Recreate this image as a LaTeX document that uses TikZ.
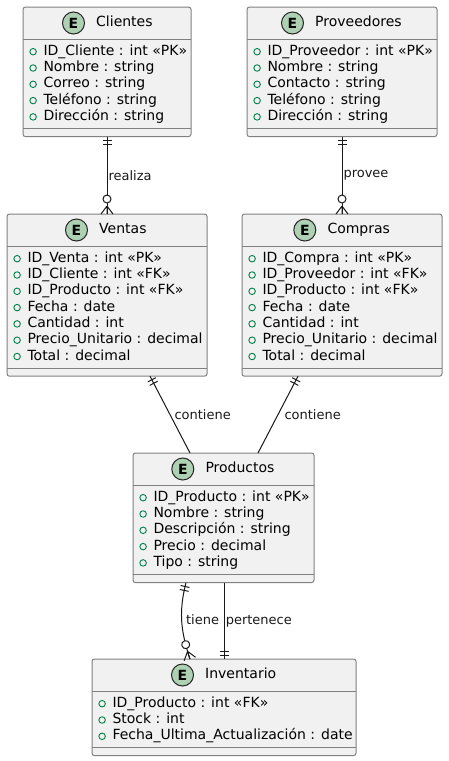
\documentclass[tikz,border=0pt]{standalone}
\usepackage{fontspec}
\setmainfont{DejaVu Sans}
\usetikzlibrary{positioning, decorations.markings}
\definecolor{entfill}{HTML}{F1F1F1}
\definecolor{spotfill}{HTML}{ADD1B2}
\definecolor{pubgreen}{HTML}{038048}

\begin{document}
\begin{tikzpicture}[x=1pt, y=-1pt,
            ent/.style={rectangle, draw=black!50, line width=1pt, rounded corners=2.5pt,
                        fill=entfill, inner sep=0pt, outer sep=0pt},
            sep/.style={draw=black!50, line width=1pt},
            spot/.style={circle, draw=black!85, line width=1pt, fill=spotfill,
                         minimum size=22pt, inner sep=0pt, font=\fontsize{14}{16}\selectfont\bfseries},
            ttl/.style={anchor=west, inner sep=0pt, text height=10.5pt, text depth=3.3pt,
                        font=\fontsize{14}{16}\selectfont},
            attr/.style={anchor=west, inner sep=0pt, text height=10.5pt, text depth=3.3pt,
                         font=\fontsize{14}{16}\selectfont},
            pub/.style={circle, draw=pubgreen, line width=0.9pt, minimum size=6.5pt, inner sep=0pt},
            rel/.style={line width=1pt, black!90},
            lbl/.style={right, inner sep=1pt, font=\fontsize{13}{15}\selectfont},
            uno ini/.style={postaction={decorate, decoration={markings,
                mark=at position 4pt with {\draw[rel] (0,-4.5) -- (0,4.5);},
                mark=at position 8pt with {\draw[rel] (0,-4.5) -- (0,4.5);}}}},
            uno fin/.style={postaction={decorate, decoration={markings,
                mark=at position -8pt with {\draw[rel] (0,-4.5) -- (0,4.5);},
                mark=at position -4pt with {\draw[rel] (0,-4.5) -- (0,4.5);}}}},
            muchos fin/.style={postaction={decorate, decoration={markings,
                mark=at position -15pt with {\draw[rel, fill=white] (0,0) circle[radius=4];},
                mark=at position -8pt with {\draw[rel] (0,0) -- (8,-6) (0,0) -- (8,0) (0,0) -- (8,6);}}}}]
          \useasboundingbox (0,0) rectangle (448,761);

          % Clientes
          \node[ent, minimum width=168pt, minimum height=129.6pt] (cli) at (107,71.8) {};
          \node[ttl] (cli-t) at (96,23) {Clientes};
          \node[spot, left=11pt of cli-t] (cli-e) {E};
          \draw[sep] ([yshift=-32pt]cli.north west) -- ([yshift=-32pt]cli.north east)
                     ([yshift=8pt]cli.south west) -- ([yshift=8pt]cli.south east);
          \foreach \a [count=\i] in {ID\_Cliente : int «PK», Nombre : string, Correo : string,
                                     Teléfono : string, Dirección : string} {
            \node[attr] (cli-\i) at (43.3, {7+28.4+16.3*\i}) {\a};
            \node[pub, left=6.5pt of cli-\i] {};
          }

          % Proveedores
          \node[ent, minimum width=190pt, minimum height=129.6pt] (prov) at (342,71.8) {};
          \node[ttl] (prov-t) at (315,23) {Proveedores};
          \node[spot, left=11pt of prov-t] (prov-e) {E};
          \draw[sep] ([yshift=-32pt]prov.north west) -- ([yshift=-32pt]prov.north east)
                     ([yshift=8pt]prov.south west) -- ([yshift=8pt]prov.south east);
          \foreach \a [count=\i] in {ID\_Proveedor : int «PK», Nombre : string, Contacto : string,
                                     Teléfono : string, Dirección : string} {
            \node[attr] (prov-\i) at (267.3, {7+28.4+16.3*\i}) {\a};
            \node[pub, left=6.5pt of prov-\i] {};
          }

          % Ventas
          \node[ent, minimum width=200pt, minimum height=162.2pt] (ven) at (107,295.1) {};
          \node[ttl] (ven-t) at (99,230) {Ventas};
          \node[spot, left=11pt of ven-t] (ven-e) {E};
          \draw[sep] ([yshift=-32pt]ven.north west) -- ([yshift=-32pt]ven.north east)
                     ([yshift=8pt]ven.south west) -- ([yshift=8pt]ven.south east);
          \foreach \a [count=\i] in {ID\_Venta : int «PK», ID\_Cliente : int «FK», ID\_Producto : int «FK»,
                                     Fecha : date, Cantidad : int, Precio\_Unitario : decimal, Total : decimal} {
            \node[attr] (ven-\i) at (27.3, {214+28.4+16.3*\i}) {\a};
            \node[pub, left=6.5pt of ven-\i] {};
          }

          % Compras
          \node[ent, minimum width=200pt, minimum height=162.2pt] (com) at (342,295.1) {};
          \node[ttl] (com-t) at (327.3,230) {Compras};
          \node[spot, left=11pt of com-t] (com-e) {E};
          \draw[sep] ([yshift=-32pt]com.north west) -- ([yshift=-32pt]com.north east)
                     ([yshift=8pt]com.south west) -- ([yshift=8pt]com.south east);
          \foreach \a [count=\i] in {ID\_Compra : int «PK», ID\_Proveedor : int «FK», ID\_Producto : int «FK»,
                                     Fecha : date, Cantidad : int, Precio\_Unitario : decimal, Total : decimal} {
            \node[attr] (com-\i) at (262.3, {214+28.4+16.3*\i}) {\a};
            \node[pub, left=6.5pt of com-\i] {};
          }

          % Productos
          \node[ent, minimum width=181pt, minimum height=129.6pt] (prod) at (223.5,517.8) {};
          \node[ttl] (prod-t) at (205.3,469) {Productos};
          \node[spot, left=11pt of prod-t] (prod-e) {E};
          \draw[sep] ([yshift=-32pt]prod.north west) -- ([yshift=-32pt]prod.north east)
                     ([yshift=8pt]prod.south west) -- ([yshift=8pt]prod.south east);
          \foreach \a [count=\i] in {ID\_Producto : int «PK», Nombre : string, Descripción : string,
                                     Precio : decimal, Tipo : string} {
            \node[attr] (prod-\i) at (153.3, {453+28.4+16.3*\i}) {\a};
            \node[pub, left=6.5pt of prod-\i] {};
          }

          % Inventario
          \node[ent, minimum width=264pt, minimum height=96.6pt] (inv) at (224,707.3) {};
          \node[ttl] (inv-t) at (205,675) {Inventario};
          \node[spot, left=11pt of inv-t] (inv-e) {E};
          \draw[sep] ([yshift=-32pt]inv.north west) -- ([yshift=-32pt]inv.north east)
                     ([yshift=8pt]inv.south west) -- ([yshift=8pt]inv.south east);
          \foreach \a [count=\i] in {ID\_Producto : int «FK», Stock : int,
                                     Fecha\_Ultima\_Actualización : date} {
            \node[attr] (inv-\i) at (112.3, {659+28.4+16.3*\i}) {\a};
            \node[pub, left=6.5pt of inv-\i] {};
          }

          % relaciones
          \draw[rel, uno ini, muchos fin] (cli) -- node[lbl] {realiza} (ven);
          \draw[rel, uno ini, muchos fin] (prov) -- node[lbl] {provee} (com);
          \draw[rel, uno ini] ([xshift=43pt]ven.south) -- node[lbl, xshift=3pt] {contiene} ([xshift=-33.5pt]prod.north);
          \draw[rel, uno ini] ([xshift=-44pt]com.south) -- node[lbl, xshift=5pt] {contiene} ([xshift=34.5pt]prod.north);
          \draw[rel, uno ini, muchos fin] ([xshift=-37.5pt]prod.south)
                .. controls +(-7,28) and +(-10,-30) .. node[lbl, xshift=3pt] {tiene} ([xshift=-34pt]inv.north);
          \draw[rel, uno fin] ([xshift=0.8pt]prod.south) -- node[lbl] {pertenece} ([xshift=0.3pt]inv.north);
        \end{tikzpicture}
\end{document}
